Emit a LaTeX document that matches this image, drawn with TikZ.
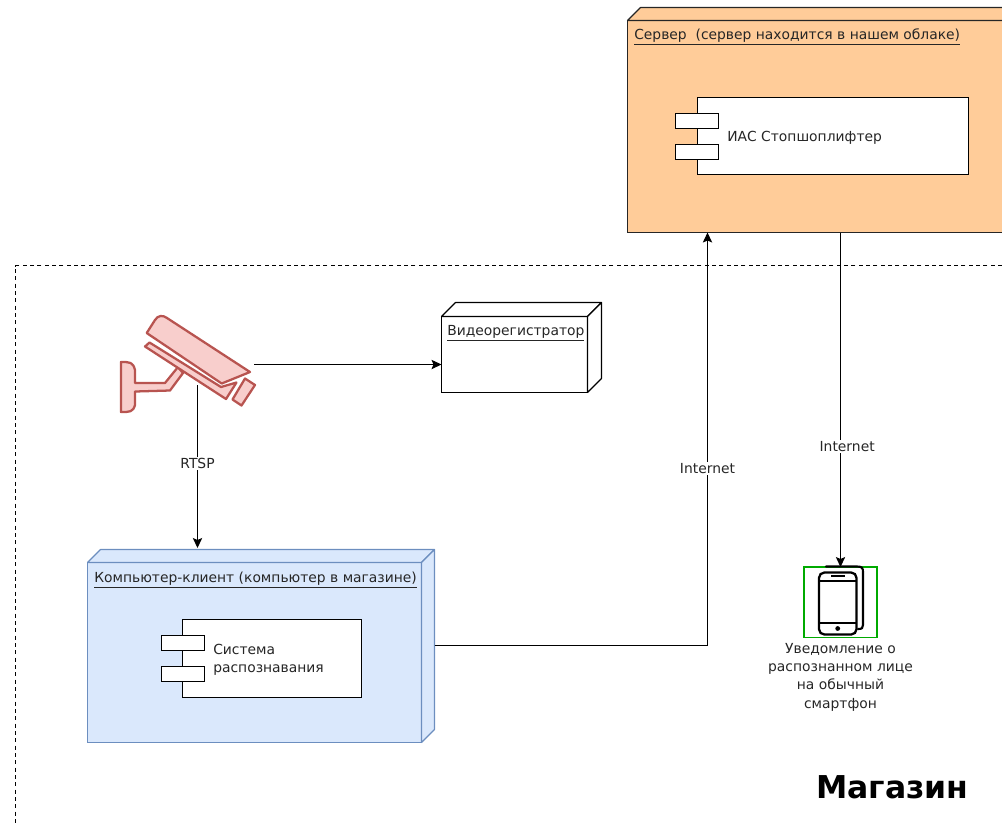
\documentclass[tikz,border=0pt]{standalone}
\usepackage{fontspec}
\setmainfont{DejaVu Sans}
\usetikzlibrary{positioning, arrows.meta}
\definecolor{srvfill}{HTML}{FFCC99}
\definecolor{pcfill}{HTML}{DAE8FC}
\definecolor{pcline}{HTML}{6C8EBF}
\definecolor{camfill}{HTML}{F8CECC}
\definecolor{camline}{HTML}{B85450}
\definecolor{txtcol}{HTML}{262626}
\definecolor{phonebox}{HTML}{00AA00}
\def\u{0.75pt}
\tikzset{
>={Stealth[length=7.5pt, width=7pt, inset=1.5pt]}, % arrow heads
x=0.75pt, y=-0.75pt, % one unit is one pixel of the reference
wire/.style={draw=black, line width=0.8pt},
every node/.style={font=\fontsize{10.4}{13.7}\selectfont, text=txtcol},
devbox/.style={draw=#1, line width=0.85pt, anchor=north west, inner sep=0pt, outer sep=0pt}, % front of a device
compbox/.style={draw=black, fill=white, line width=0.85pt, anchor=north west, inner sep=0pt, outer sep=0pt},
portbox/.style={compbox, minimum width=43*\u, minimum height=15*\u},
devtext/.style={anchor=west, inner sep=0pt, align=left},
midtext/.style={fill=white, inner xsep=1.5pt, inner ysep=1pt},
campart/.style={draw=camline, fill=camfill, line width=1.7pt, line join=round},
}
% top and right faces of a device box
\newcommand{\depthbox}[4]{
\draw[draw=#3, fill=#4, line width=0.85pt, line join=round] (#1.north west) -- ++(#2,-#2) -- ([shift={(#2,-#2)}]#1.north east) -- (#1.north east) -- cycle;
\draw[draw=#3, fill=#4, line width=0.85pt, line join=round] (#1.north east) -- ++(#2,-#2) -- ([shift={(#2,-#2)}]#1.south east) -- (#1.south east) -- cycle;
}
\begin{document}
\begin{tikzpicture}
\useasboundingbox (0,0) rectangle (1002,826);
\clip (0,0) rectangle (1002,826);
% shop border
\draw[line width=0.75pt, dash pattern=on 3pt off 2.5pt] (1002,265.5) -- (15.5,265.5) -- (15.5,826);
\node[font=\fontsize{23.6}{28}\selectfont\bfseries, text=black, inner sep=0pt] (shop) at (892.5,787) {Магазин};

% server
\node[devbox=txtcol, fill=srvfill, minimum width=390*\u, minimum height=212*\u] (srv) at (627.5,20.5) {};
\depthbox{srv}{13}{txtcol}{srvfill}
\node[devtext] (srvtext) at (634,37) {\underline{Сервер\ \ (сервер находится в нашем облаке)}};
\node[compbox, minimum width=271*\u, minimum height=77*\u] (ias) at (697.5,97.5) {};
\node[portbox] (iasa) at (675.5,113.5) {};
\node[portbox] (iasb) at (675.5,144.5) {};
\node[devtext] (iastext) at (727,138) {ИАС Стопшоплифтер};

% camera
\coordinate (camright) at (254,364.5);
\coordinate (cambottom) at (197.5,385);
\draw[campart] (178,367) -- (165,383) -- (135,383) -- (135,370) .. controls (133,362) and (130,362) .. (121,362) -- (121,412) .. controls (130,412) and (133,412) .. (135,405) -- (135,391.5) -- (170,390.5) -- (183,373) -- cycle;
\draw[campart] (145,346.5) -- (149.5,342.5) -- (221,387) -- (236.5,382.5) -- (226,399) -- cycle;
\draw[campart] (146.7,333) -- (155,320) .. controls (158,315) and (163,315) .. (167,318) -- (250,372) -- (221.7,383.5) -- cycle;
\draw[campart] (245,378.5) -- (255,385) -- (241.5,405.5) -- (232.5,399.5) -- cycle;

% recorder
\node[devbox=black, fill=white, minimum width=146*\u, minimum height=76*\u] (rec) at (441.5,316.5) {};
\depthbox{rec}{14}{black}{white}
\node[devtext] (rectext) at (447,333) {\underline{Видеорегистратор}};

% client computer
\node[devbox=pcline, fill=pcfill, minimum width=334*\u, minimum height=180*\u] (pc) at (87.5,562.5) {};
\depthbox{pc}{13}{pcline}{pcfill}
\node[devtext] (pctext) at (94,580) {\underline{Компьютер-клиент (компьютер в магазине)}};
\node[compbox, minimum width=179*\u, minimum height=78*\u] (recog) at (182.5,619.5) {};
\node[portbox] (recoga) at (161.5,635.5) {};
\node[portbox] (recogb) at (161.5,666.5) {};
\node[devtext] (recogtext) at (213,660) {Система\\распознавания};
\coordinate (pctop) at (197.5,548);
\coordinate (pcout) at (434.5,645.5);
\coordinate (srvin) at (707.5,232.5);
\coordinate (srvout) at (840.5,232.5);

% phone
\node[draw=phonebox, line width=0.8pt, anchor=north west, inner sep=0pt, outer sep=0pt, minimum width=73*\u, minimum height=70.5*\u] (phone) at (804,567) {};
\draw[line width=1.6pt, line cap=round] (826,566.5) -- (857,566.5) .. controls (862,566.5) and (863,568) .. (863,572) -- (863,625) .. controls (863,628) and (862,629) .. (858,629);
\draw[line width=1.7pt, fill=white, rounded corners=4pt] (819,572.5) rectangle (856.5,634.5);
\draw[line width=1pt] (819,581) -- (856.5,581);
\draw[line width=1pt] (819,623) -- (856.5,623);
\draw[line width=1pt] (831,576) -- (845,576);
\fill (837.7,628.5) circle (2.4);
\node[below=4pt of phone, align=center, inner sep=0pt] (phonetext) {Уведомление о\\распознанном лице\\на обычный\\смартфон};

% links
\draw[wire, ->] (camright) -- (rec.west |- camright);
\draw[wire, ->] (cambottom) -- node[midtext, pos=0.48] {RTSP} (pctop);
\draw[wire, ->] (pcout) -| node[midtext, pos=0.714] {Internet} (srvin);
\draw[wire, ->] (srvout) -- node[midtext, pos=0.64, xshift=5pt] {Internet} (phone.north);
\end{tikzpicture}
\end{document}
